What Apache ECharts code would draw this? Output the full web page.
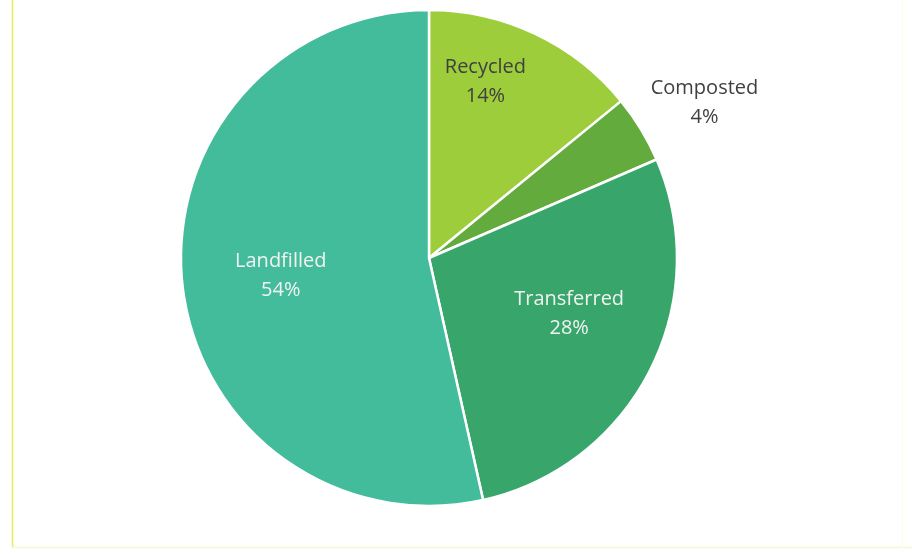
<!DOCTYPE html>
<html>
<head>
<meta charset="utf-8">
<script src="https://cdn.jsdelivr.net/npm/echarts@6/dist/echarts.min.js"></script>
<style>
  html, body { margin: 0; padding: 0; background: #ffffff; }
  #chart { width: 912px; height: 554px; }
</style>
</head>
<body>
<div id="chart"></div>
<script>
// Data
var categories = ['Recycled', 'Composted', 'Transferred', 'Landfilled'];
var values = [14.1, 4.4, 28.0, 53.5];

// Styling (not data)
var colors = ['#9dcd3a', '#63ab3d', '#38a66b', '#43bc9b'];
var labelColors = ['#404040', '#404040', '#f2f2f2', '#f2f2f2'];
var labelOffsets = [[2, -61], [167, -89], [27, -2], [-22, 4]];

var total = values.reduce(function (a, b) { return a + b; }, 0);

var seriesData = categories.map(function (name, i) {
  return {
    name: name,
    value: values[i],
    itemStyle: { color: colors[i] },
    label: { color: labelColors[i], offset: labelOffsets[i] }
  };
});

var chart = echarts.init(document.getElementById('chart'), null, { renderer: 'canvas' });
chart.setOption({
  backgroundColor: '#ffffff',
  animation: false,
  graphic: [
    { type: 'line', shape: { x1: 12.5, y1: 0, x2: 12.5, y2: 548 }, style: { stroke: '#e4f05a', lineWidth: 1.5 }, silent: true },
    { type: 'line', shape: { x1: 12, y1: 547.5, x2: 912, y2: 547.5 }, style: { stroke: '#f8f8d0', lineWidth: 1.5 }, silent: true },
    { type: 'line', shape: { x1: 902.5, y1: 0, x2: 902.5, y2: 548 }, style: { stroke: '#fbfbe8', lineWidth: 1 }, silent: true }
  ],
  series: [{
    type: 'pie',
    center: [429, 258],
    radius: [0, 248],
    startAngle: 90,
    clockwise: true,
    avoidLabelOverlap: false,
    itemStyle: { borderColor: '#ffffff', borderWidth: 2.5 },
    label: {
      show: true,
      position: 'inside',
      fontFamily: 'Open Sans',
      fontSize: 20,
      lineHeight: 29,
      align: 'center',
      formatter: function (p) {
        return p.name + '\n' + Math.round(p.value / total * 100) + '%';
      }
    },
    labelLine: { show: false },
    emphasis: { disabled: true },
    data: seriesData
  }]
});
</script>
</body>
</html>
